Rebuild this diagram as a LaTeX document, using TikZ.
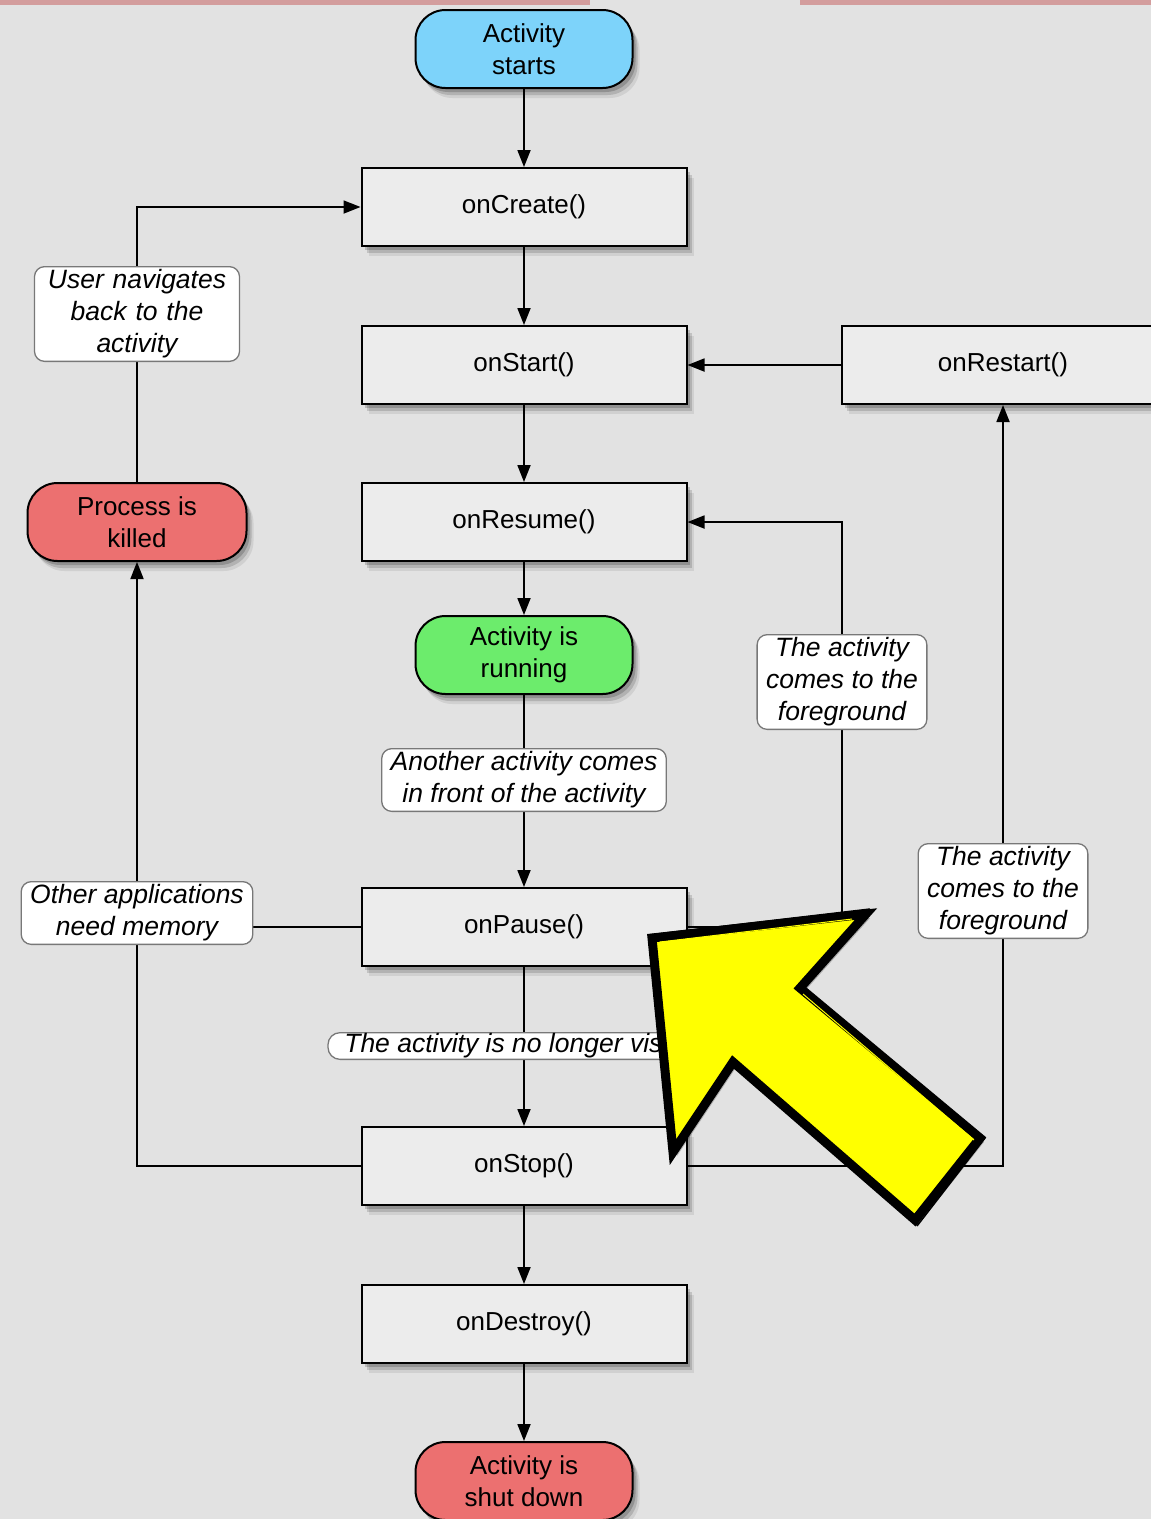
\documentclass[tikz,border=0pt]{standalone}
\usepackage{fontspec}
\setmainfont{Liberation Sans}
\usetikzlibrary{arrows.meta,shadows,calc}
\pgfdeclarelayer{back}
\pgfdeclarelayer{mid}
\pgfsetlayers{back,mid,main}
\definecolor{bgc}{RGB}{226,226,226}
\definecolor{boxc}{RGB}{236,236,236}
\definecolor{cyanc}{RGB}{125,211,250}
\definecolor{greenc}{RGB}{108,236,108}
\definecolor{redc}{RGB}{236,112,112}
\definecolor{yel}{RGB}{255,255,0}
\definecolor{labdraw}{RGB}{120,120,120}
\tikzset{
  softshadow/.style={
    drop shadow={shadow xshift=3pt,shadow yshift=-4pt,opacity=0.18,fill=black},
    drop shadow={shadow xshift=5pt,shadow yshift=-7pt,opacity=0.14,fill=black},
    drop shadow={shadow xshift=7pt,shadow yshift=-10pt,opacity=0.08,fill=black}},
  box/.style={draw=black,line width=2pt,fill=boxc,minimum width=325pt,minimum height=78pt,
    inner sep=0pt,font=\fontsize{26}{32}\selectfont,align=center,softshadow},
  term/.style={box,minimum width=217pt,rounded corners=30pt},
  lab/.style={draw=labdraw,line width=1.3pt,fill=white,rounded corners=10pt,
    font=\fontsize{26.5}{32}\selectfont\itshape,align=center,inner xsep=9pt,inner ysep=3pt},
  conn/.style={line width=1.8pt,draw=black},
  arr/.style={conn,-{Triangle[length=17pt,width=13pt]}}
}
\begin{document}
\begin{tikzpicture}[x=1pt,y=-1pt]
\begin{pgfonlayer}{back}
\fill[bgc] (0,0) rectangle (1151,1519);
% faint remains of a red title at the top edge
\fill[red!70!black,opacity=0.3] (0,0) rectangle (590,5);
\fill[red!70!black,opacity=0.3] (800,0) rectangle (1151,5);
\end{pgfonlayer}
\useasboundingbox (0,0) rectangle (1151,1519);
% nodes
\node[term,fill=cyanc] (start) at (524,49) {Activity\\starts};
\node[box] (create) at (524,207) {onCreate()};
\node[box] (onstart) at (524,365) {onStart()};
\node[box,minimum width=322pt] (restart) at (1003,365) {onRestart()};
\node[box] (resume) at (524,522) {onResume()};
\node[term,fill=greenc] (running) at (524,655) {Activity is\\running};
\node[box] (pause) at (524,927) {onPause()};
\node[box] (stop) at (524,1166) {onStop()};
\node[box] (destroy) at (524,1324) {onDestroy()};
\node[term,fill=redc] (shut) at (524,1481) {Activity is\\shut down};
\node[term,fill=redc,minimum width=219pt] (killed) at (137,522) {Process is\\killed};
% labels
\node[lab,text width=187pt] (nav) at (137,314) {User navigates\\back to the\\activity};
\node[lab] (fgone) at (842,682) {The activity\\comes to the\\foreground};
\node[lab] (fgtwo) at (1003,891) {The activity\\comes to the\\foreground};
\node[lab] (another) at (524,780) {Another activity comes\\in front of the activity};
\node[lab] (mem) at (137,913) {Other applications\\need memory};
\node[lab,inner ysep=1pt,rounded corners=12pt,minimum width=392pt] (novis) at (524,1046) {The activity is no longer visible};
% connectors
\begin{pgfonlayer}{mid}
\draw[arr] (start) -- (create);
\draw[arr] (create) -- (onstart);
\draw[arr] (onstart) -- (resume);
\draw[arr] (resume) -- (running);
\draw[conn] (running) -- (another);
\draw[arr] (another) -- (pause);
\draw[conn] (pause) -- (novis);
\draw[arr] (novis) -- (stop);
\draw[arr] (stop) -- (destroy);
\draw[arr] (destroy) -- (shut);
\draw[arr] (restart) -- (onstart);
\draw[conn] (pause.east) -| (fgone.south);
\draw[arr] (fgone.north) |- (resume.east);
\draw[conn] (stop.east) -| (fgtwo.south);
\draw[arr] (fgtwo.north) -- (restart.south);
\draw[conn] (stop.west) -| (mem.south);
\draw[conn] (pause.west) -- (pause.west -| mem.east);
\draw[arr] (mem.north) -- (killed.south);
\draw[conn] (killed.north) -- (nav.south);
\draw[arr] (nav.north) |- (create.west);
\end{pgfonlayer}
% big yellow arrow
\coordinate (ya) at (652,938);
\coordinate (yb) at (866,914);
\coordinate (yc) at (800,988);
\coordinate (yd) at (980,1138);
\coordinate (ye) at (915,1220);
\coordinate (yf) at (733,1062);
\coordinate (yg) at (673,1152);
\fill[black,opacity=0.25] ($(ya)+(4,4)$) -- ($(yb)+(4,4)$) -- ($(yc)+(4,4)$) -- ($(yd)+(4,4)$) -- ($(ye)+(4,4)$) -- ($(yf)+(4,4)$) -- ($(yg)+(4,4)$) -- cycle;
\draw[fill=yel,line width=9pt,line join=miter] (ya) -- (yb) -- (yc) -- (yd) -- (ye) -- (yf) -- (yg) -- cycle;
\draw[yel,line width=1pt] ($(ya)+(8,4)$) -- ($(yb)+(-14,5)$);
\draw[yel,line width=1pt] ($(yc)+(3,6)$) -- ($(yd)+(-6,2)$);
\draw[black,line width=1.5pt] ($(ya)+(-4,-3)$) -- ($(yb)+(4,-5)$);
\draw[black,line width=1.5pt] ($(yd)+(5,0)$) -- ($(ye)+(2,6)$);
\end{tikzpicture}
\end{document}
